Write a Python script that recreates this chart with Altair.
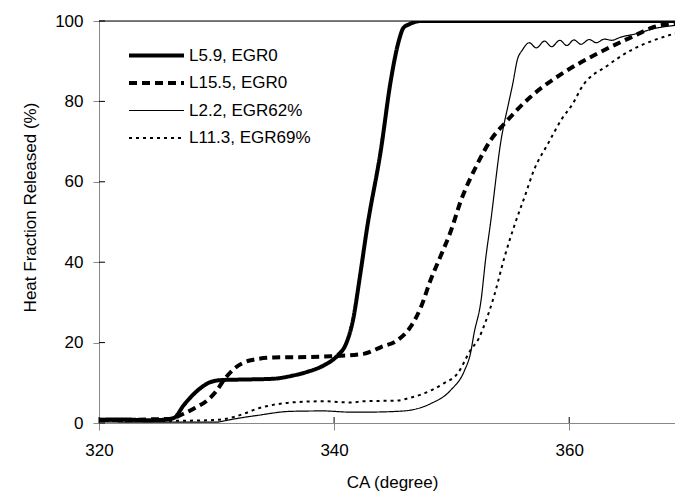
import altair as alt
import pandas as pd

# ---- data ----
series_names = ["L5.9, EGR0", "L15.5, EGR0", "L2.2, EGR62%", "L11.3, EGR69%"]

ca_l59 = [320, 322, 324, 325.5, 326.4, 327.2, 328.6, 329.5, 330.5, 332, 334.8, 336.5, 337.7, 339.1,
          340.3, 341.0, 341.6, 342.2, 342.8, 344.0, 344.8, 345.5, 345.9, 346.4, 347.4, 369]
hf_l59 = [0.8, 0.9, 0.7, 0.8, 1.3, 4.4, 8.6, 10.2, 10.7, 10.8, 11.0, 11.8, 12.7, 14.3,
          16.8, 19.6, 25.5, 36.5, 48.4, 68.3, 84.8, 95.0, 98.3, 99.2, 100, 100]

ca_l155 = [320, 322, 324, 326, 327.2, 328.2, 329.2, 330.0, 330.6, 331.5, 332.9, 334.9, 337.7, 339.7,
           342.5, 344.0, 345.4, 346.5, 347.4, 348.2, 349.1, 349.9, 350.8, 352.2, 353.3, 354.5, 356.7,
           359.6, 362.4, 365.3, 367.2, 369]
hf_l155 = [0.8, 0.7, 0.9, 1.0, 2.3, 3.8, 5.6, 8.0, 10.6, 13.5, 15.6, 16.3, 16.4, 16.6,
           17.2, 18.9, 20.6, 23.9, 28.9, 35.5, 41.8, 47.5, 55.4, 64.5, 70.3, 74.5, 81.1,
           87.3, 91.9, 96.0, 98.5, 99.5]

ca_l22 = [320, 324, 328, 330, 330.6, 331.5, 333.5, 336.3, 339.1, 341.4, 342.5, 345.4, 347, 348.2,
          349.9, 351.1, 351.6, 351.9, 352.5, 352.9, 353.3, 354.2, 354.9, 355.2, 355.6, 356.0,
          356.6, 357.2, 357.9, 358.5, 359.2, 359.8, 360.4, 361.0, 361.7, 362.3, 363.0, 363.6,
          364.4, 365.8, 367.2, 369]
hf_l22 = [0.3, 0.2, 0.2, 0.2, 0.5, 1.0, 1.9, 2.9, 3.0, 2.7, 2.7, 2.9, 3.5, 4.8,
          8.1, 13.1, 17.3, 22.2, 30.5, 41.0, 49.6, 70.3, 80.3, 84.4, 90.5, 92.7,
          94.6, 93.3, 95.0, 93.6, 95.2, 93.9, 95.3, 94.2, 95.4, 94.6, 95.5, 95.2,
          96.0, 96.9, 98.1, 98.9]

ca_l113 = [320, 324, 328, 329.5, 330.5, 331.5, 332.5, 333.5, 335, 336.3, 339.1, 341.4, 342.5, 345.4,
           346.5, 347.6, 349.3, 350.5, 351.6, 352.3, 352.8, 353.6, 354.5, 355.3, 356.2, 357.0,
           358.2, 359.3, 360.4, 361.0, 363.3, 365.5, 367.2, 369]
hf_l113 = [0.5, 0.5, 0.6, 0.7, 0.9, 1.5, 2.5, 3.6, 4.6, 5.1, 5.4, 5.1, 5.4, 5.6,
           6.3, 7.3, 9.8, 12.3, 18.1, 21.0, 24.5, 31.5, 41.3, 48.8, 56.2, 62.9,
           69.5, 75.3, 79.9, 83.2, 89.0, 93.1, 95.2, 96.9]

x_ticks = [320, 340, 360]
y_ticks = [0, 20, 40, 60, 80, 100]

# ---- build table ----
rows = []
for name, xs, ys in zip(series_names,
                        [ca_l59, ca_l155, ca_l22, ca_l113],
                        [hf_l59, hf_l155, hf_l22, hf_l113]):
    for a, b in zip(xs, ys):
        rows.append({"s": name, "ca": a, "hf": b})
df = pd.DataFrame(rows)

W, H = 576, 402
FONT = "Liberation Sans"
xscale = alt.Scale(domain=[320, 369], nice=False, zero=False)
yscale = alt.Scale(domain=[0, 100], nice=False)

legend_opts = dict(
    orient="none", legendX=27, legendY=26, title=None,
    symbolType="M-1,0L9,0", symbolSize=121, symbolStrokeColor="black",
    symbolFillColor="transparent", labelOffset=46, rowPadding=9.5,
    labelFontSize=17, labelFont=FONT, labelColor="black", padding=0,
)

lines = alt.Chart(df).mark_line(color="black", interpolate="monotone", clip=True).encode(
    x=alt.X("ca:Q", scale=xscale,
            axis=alt.Axis(values=x_ticks, format="d", title="CA (degree)", grid=False,
                          tickSize=7, labelPadding=12, labelFontSize=17, titleFontSize=17,
                          labelFlush=False,
                          titleFontWeight="normal", titleX=293, titleY=64,
                          titleBaseline="alphabetic")),
    y=alt.Y("hf:Q", scale=yscale,
            axis=alt.Axis(values=y_ticks, title="Heat Fraction Released (%)", grid=False,
                          tickSize=6, labelPadding=10, labelFontSize=17, titleFontSize=17,
                          labelFlush=False,
                          titleFontWeight="normal", titleX=-64, titleY=186,
                          titleBaseline="alphabetic")),
    strokeDash=alt.StrokeDash("s:O",
                              scale=alt.Scale(domain=series_names,
                                              range=[[1, 0], [8, 5], [1, 0], [3, 4]]),
                              legend=alt.Legend(**legend_opts)),
    strokeWidth=alt.StrokeWidth("s:O",
                                scale=alt.Scale(type="ordinal", domain=series_names,
                                                range=[4, 4, 1.2, 2]),
                                legend=alt.Legend(**legend_opts)),
)

xt = pd.DataFrame({"v": x_ticks})
yt = pd.DataFrame({"v": y_ticks})
top = pd.DataFrame({"v": [100]})

x_inner = alt.Chart(xt).mark_rule(color="black", strokeWidth=1).encode(
    x=alt.X("v:Q", scale=xscale), y=alt.value(H - 6), y2=alt.value(H))
y_inner = alt.Chart(yt).mark_rule(color="black", strokeWidth=1).encode(
    y=alt.Y("v:Q", scale=yscale), x=alt.value(0), x2=alt.value(6))
top_line = alt.Chart(top).mark_rule(color="black", strokeWidth=1).encode(
    y=alt.Y("v:Q", scale=yscale))

chart = alt.layer(top_line, x_inner, y_inner, lines).properties(
    width=W, height=H,
    autosize=alt.AutoSizeParams(type="none"),
    padding={"left": 99, "top": 21, "right": 0, "bottom": 68},
).configure_view(stroke=None).configure_axis(
    domainColor="black", tickColor="black", labelColor="black", titleColor="black",
    labelFont=FONT, titleFont=FONT, domainWidth=1, tickWidth=1,
).configure(background="white")

chart.save("out.html", embed_options={"renderer": "svg", "actions": False})
